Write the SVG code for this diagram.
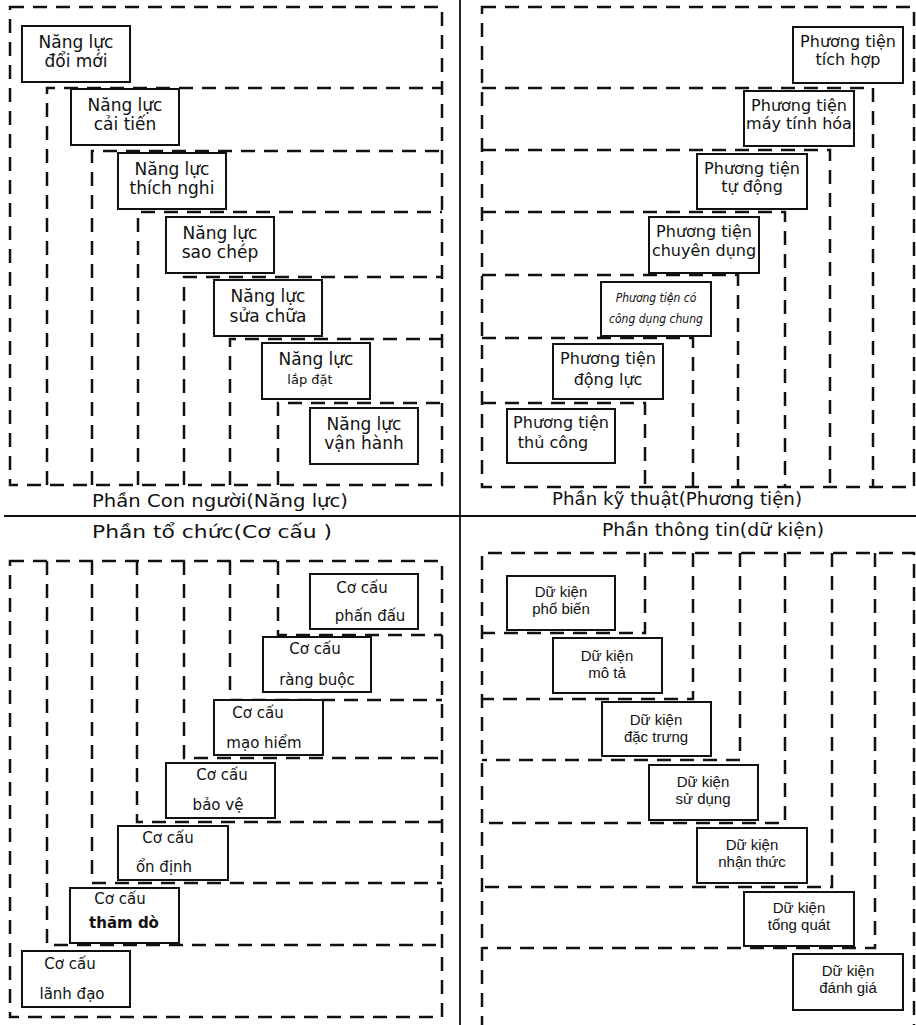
<svg xmlns="http://www.w3.org/2000/svg" width="916" height="1025" viewBox="0 0 916 1025">
<style>
.bg{fill:#fff}
.fr{fill:none;stroke:#111;stroke-width:2.5;stroke-dasharray:14 9}
.sep{fill:none;stroke:#111;stroke-width:1.8}
.bx{fill:#fff;stroke:#111;stroke-width:2}
.t{font-family:"DejaVu Sans",sans-serif;font-size:17px;fill:#111;text-anchor:middle}
.p{font-family:"DejaVu Sans",sans-serif;font-size:16px;fill:#111;text-anchor:middle}
.ps{font-family:"DejaVu Sans Condensed","DejaVu Sans",sans-serif;font-size:12px;font-style:italic;fill:#111;text-anchor:middle}
.c{font-family:"DejaVu Sans",sans-serif;font-size:15px;fill:#111;text-anchor:middle}
.d{font-family:"Liberation Sans",Arial,sans-serif;font-size:15px;fill:#111;text-anchor:middle}
.lb{font-family:"DejaVu Sans",sans-serif;font-size:17px;fill:#111;text-anchor:middle}
</style>
<rect class="bg" x="0" y="0" width="916" height="1025"/>

<g id="separators">
<line class="sep" x1="460" y1="0" x2="460" y2="1025"/>
<line class="sep" x1="4" y1="516" x2="916" y2="516"/>
</g>

<g id="frames">
<rect class="fr" x="10" y="7" width="432" height="478"/>
<path class="fr" d="M47,485 V88 H442 M92,485 V151 H442 M138,485 V212 H442 M184,485 V277 H442 M230,485 V339 H442 M278,485 V403 H442"/>
<rect class="fr" x="482" y="7" width="432" height="480"/>
<path class="fr" d="M482,88 H873 V487 M482,150 H830 V487 M482,212 H785 V487 M482,275 H738 V487 M482,338 H693 V487 M482,403 H645 V487"/>
<rect class="fr" x="10" y="561" width="432" height="456"/>
<path class="fr" d="M278,561 V635 H442 M230,561 V700 H442 M184,561 V758 H442 M137,561 V822 H442 M92,561 V883 H442 M47,561 V945 H442"/>
<path class="fr" d="M482,1030 V553 H914 V1030"/>
<path class="fr" d="M645,553 V633 H482 M693,553 V699 H482 M740,553 V760 H482 M785,553 V823 H482 M832,553 V887 H482 M875,553 V948 H482"/>
</g>

<g id="labels">
<text class="lb" x="220" y="507" textLength="256" lengthAdjust="spacingAndGlyphs">Phần Con người(Năng lực)</text>
<text class="lb" x="677" y="505" textLength="250" lengthAdjust="spacingAndGlyphs">Phần kỹ thuật(Phương tiện)</text>
<text class="lb" x="212" y="538" textLength="240" lengthAdjust="spacingAndGlyphs">Phần tổ chức(Cơ cấu )</text>
<text class="lb" x="713" y="536" textLength="222" lengthAdjust="spacingAndGlyphs">Phần thông tin(dữ kiện)</text>
</g>

<g id="nl-doimoi"><rect class="bx" x="22" y="26" width="108" height="56"/><text class="t" x="76" y="48">Năng lực</text><text class="t" x="76" y="67">đổi mới</text></g>
<g id="nl-caitien"><rect class="bx" x="71" y="89" width="108" height="56"/><text class="t" x="125" y="111">Năng lực</text><text class="t" x="125" y="130">cải tiến</text></g>
<g id="nl-thichnghi"><rect class="bx" x="118" y="153" width="108" height="56"/><text class="t" x="172" y="175">Năng lực</text><text class="t" x="172" y="194">thích nghi</text></g>
<g id="nl-saochep"><rect class="bx" x="166" y="217" width="108" height="56"/><text class="t" x="220" y="239">Năng lực</text><text class="t" x="220" y="258">sao chép</text></g>
<g id="nl-suachua"><rect class="bx" x="214" y="280" width="108" height="56"/><text class="t" x="268" y="302">Năng lực</text><text class="t" x="268" y="322">sửa chữa</text></g>
<g id="nl-lapdat"><rect class="bx" x="262" y="343" width="108" height="56"/><text class="t" x="316" y="365">Năng lực</text><text class="c" x="310" y="384" style="font-size:13px">lắp đặt</text></g>
<g id="nl-vanhanh"><rect class="bx" x="310" y="408" width="108" height="56"/><text class="t" x="364" y="430">Năng lực</text><text class="t" x="364" y="449">vận hành</text></g>

<g id="pt-tichhop"><rect class="bx" x="793" y="27" width="110" height="56"/><text class="p" x="848" y="47">Phương tiện</text><text class="p" x="848" y="65">tích hợp</text></g>
<g id="pt-maytinhhoa"><rect class="bx" x="744" y="91" width="110" height="55"/><text class="p" x="799" y="111">Phương tiện</text><text class="p" x="799" y="129">máy tính hóa</text></g>
<g id="pt-tudong"><rect class="bx" x="697" y="154" width="110" height="55"/><text class="p" x="752" y="174">Phương tiện</text><text class="p" x="752" y="192">tự động</text></g>
<g id="pt-chuyendung"><rect class="bx" x="649" y="217" width="110" height="56"/><text class="p" x="704" y="237">Phương tiện</text><text class="p" x="704" y="256">chuyên dụng</text></g>
<g id="pt-congdungchung"><rect class="bx" x="601" y="282" width="110" height="54"/><text class="ps" x="656" y="302">Phương tiện có</text><text class="ps" x="656" y="323">công dụng chung</text></g>
<g id="pt-donglu"><rect class="bx" x="553" y="344" width="110" height="55"/><text class="p" x="608" y="364">Phương tiện</text><text class="p" x="608" y="385">động lực</text></g>
<g id="pt-thucong"><rect class="bx" x="507" y="409" width="108" height="54"/><text class="p" x="561" y="428">Phương tiện</text><text class="p" x="553" y="448">thủ công</text></g>

<g id="cc-phandau"><rect class="bx" x="310" y="574" width="108" height="55"/><text class="c" x="362" y="593">Cơ cấu</text><text class="c" x="370" y="621">phấn đấu</text></g>
<g id="cc-rangbuoc"><rect class="bx" x="263" y="637" width="108" height="55"/><text class="c" x="315" y="654">Cơ cấu</text><text class="c" x="317" y="685">ràng buộc</text></g>
<g id="cc-maohiem"><rect class="bx" x="214" y="700" width="109" height="55"/><text class="c" x="258" y="718">Cơ cấu</text><text class="c" x="264" y="748">mạo hiểm</text></g>
<g id="cc-baove"><rect class="bx" x="166" y="763" width="109" height="55"/><text class="c" x="222" y="780">Cơ cấu</text><text class="c" x="218" y="810">bảo vệ</text></g>
<g id="cc-ondinh"><rect class="bx" x="118" y="826" width="110" height="54"/><text class="c" x="168" y="843">Cơ cấu</text><text class="c" x="164" y="872">ổn định</text></g>
<g id="cc-thamdo"><rect class="bx" x="70" y="888" width="109" height="55"/><text class="c" x="120" y="904">Cơ cấu</text><text class="c" x="124" y="928" style="font-weight:bold">thăm dò</text></g>
<g id="cc-lanhdao"><rect class="bx" x="22" y="951" width="108" height="56"/><text class="c" x="70" y="969">Cơ cấu</text><text class="c" x="72" y="999">lãnh đạo</text></g>

<g id="dk-phobien"><rect class="bx" x="507" y="576" width="108" height="54"/><text class="d" x="561" y="597">Dữ kiện</text><text class="d" x="561" y="614">phổ biến</text></g>
<g id="dk-mota"><rect class="bx" x="553" y="638" width="109" height="55"/><text class="d" x="607" y="661">Dữ kiện</text><text class="d" x="607" y="678">mô tả</text></g>
<g id="dk-dactrung"><rect class="bx" x="602" y="702" width="109" height="54"/><text class="d" x="656" y="725">Dữ kiện</text><text class="d" x="656" y="742">đặc trưng</text></g>
<g id="dk-sudung"><rect class="bx" x="649" y="765" width="109" height="55"/><text class="d" x="703" y="787">Dữ kiện</text><text class="d" x="703" y="804">sử dụng</text></g>
<g id="dk-nhanthuc"><rect class="bx" x="697" y="828" width="110" height="55"/><text class="d" x="752" y="850">Dữ kiện</text><text class="d" x="752" y="867">nhận thức</text></g>
<g id="dk-tongquat"><rect class="bx" x="744" y="892" width="110" height="54"/><text class="d" x="799" y="913">Dữ kiện</text><text class="d" x="799" y="930">tổng quát</text></g>
<g id="dk-danhgia"><rect class="bx" x="793" y="954" width="110" height="56"/><text class="d" x="848" y="976">Dữ kiện</text><text class="d" x="848" y="993">đánh giá</text></g>
</svg>
